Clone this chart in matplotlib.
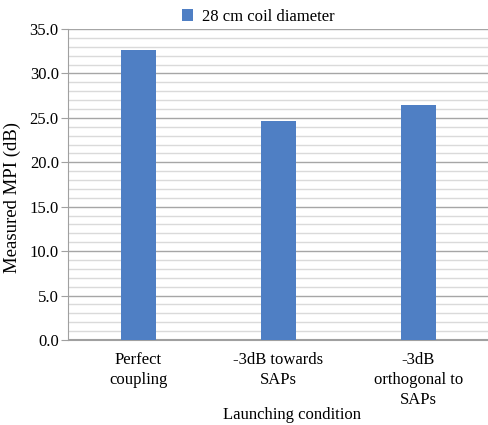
import matplotlib.pyplot as plt
import numpy as np
from matplotlib.ticker import MultipleLocator

plt.rcParams['font.family'] = ['Liberation Serif', 'DejaVu Serif']

conditions = ['Perfect\ncoupling', '-3dB towards\nSAPs', '-3dB\northogonal to\nSAPs']
mpi_28cm = [32.6, 24.6, 26.5]

fig = plt.figure(figsize=(4.89, 4.25), dpi=100)
ax = fig.add_axes([68.5 / 489, 1 - 340 / 425, 420 / 489, 311 / 425])

x = np.arange(len(conditions))
ax.bar(x, mpi_28cm, width=0.25, color='#4f7fc4', label='28 cm coil diameter', zorder=3)

ax.set_xlim(-0.5, 2.5)
ax.set_ylim(0, 35)
ax.yaxis.set_minor_locator(MultipleLocator(1))
ax.set_yticks(np.arange(0, 36, 5))
ax.set_yticklabels([f'{v:.1f}' for v in np.arange(0, 36, 5)], fontsize=12)
ax.set_xticks(x)
ax.set_xticklabels(conditions, fontsize=12, va='top', linespacing=1.3)

ax.grid(axis='y', which='major', color='#a6a6a6', linewidth=1.0, zorder=0)
ax.grid(axis='y', which='minor', color='#dadada', linewidth=1.0, zorder=0)

for s in ['top', 'right']:
    ax.spines[s].set_visible(False)
ax.spines['left'].set_color('#a0a0a0')
ax.spines['bottom'].set_color('#a0a0a0')
ax.spines['bottom'].set_linewidth(1.5)
ax.tick_params(axis='y', which='major', length=5, color='#a0a0a0', pad=2)
ax.tick_params(axis='y', which='minor', length=0)
ax.tick_params(axis='x', length=0, pad=9)

ax.set_ylabel('Measured MPI (dB)', fontsize=13.5)
ax.yaxis.set_label_coords(-0.112, 0.457)
ax.set_xlabel('Launching condition', fontsize=12)
ax.xaxis.set_label_coords(0.532, -0.214)

fig.legend(loc='upper center', bbox_to_anchor=(258 / 489, 1.015), frameon=False,
           fontsize=12, handlelength=0.7, handleheight=0.7, handletextpad=0.5)

fig.savefig('out.png', dpi=100)
